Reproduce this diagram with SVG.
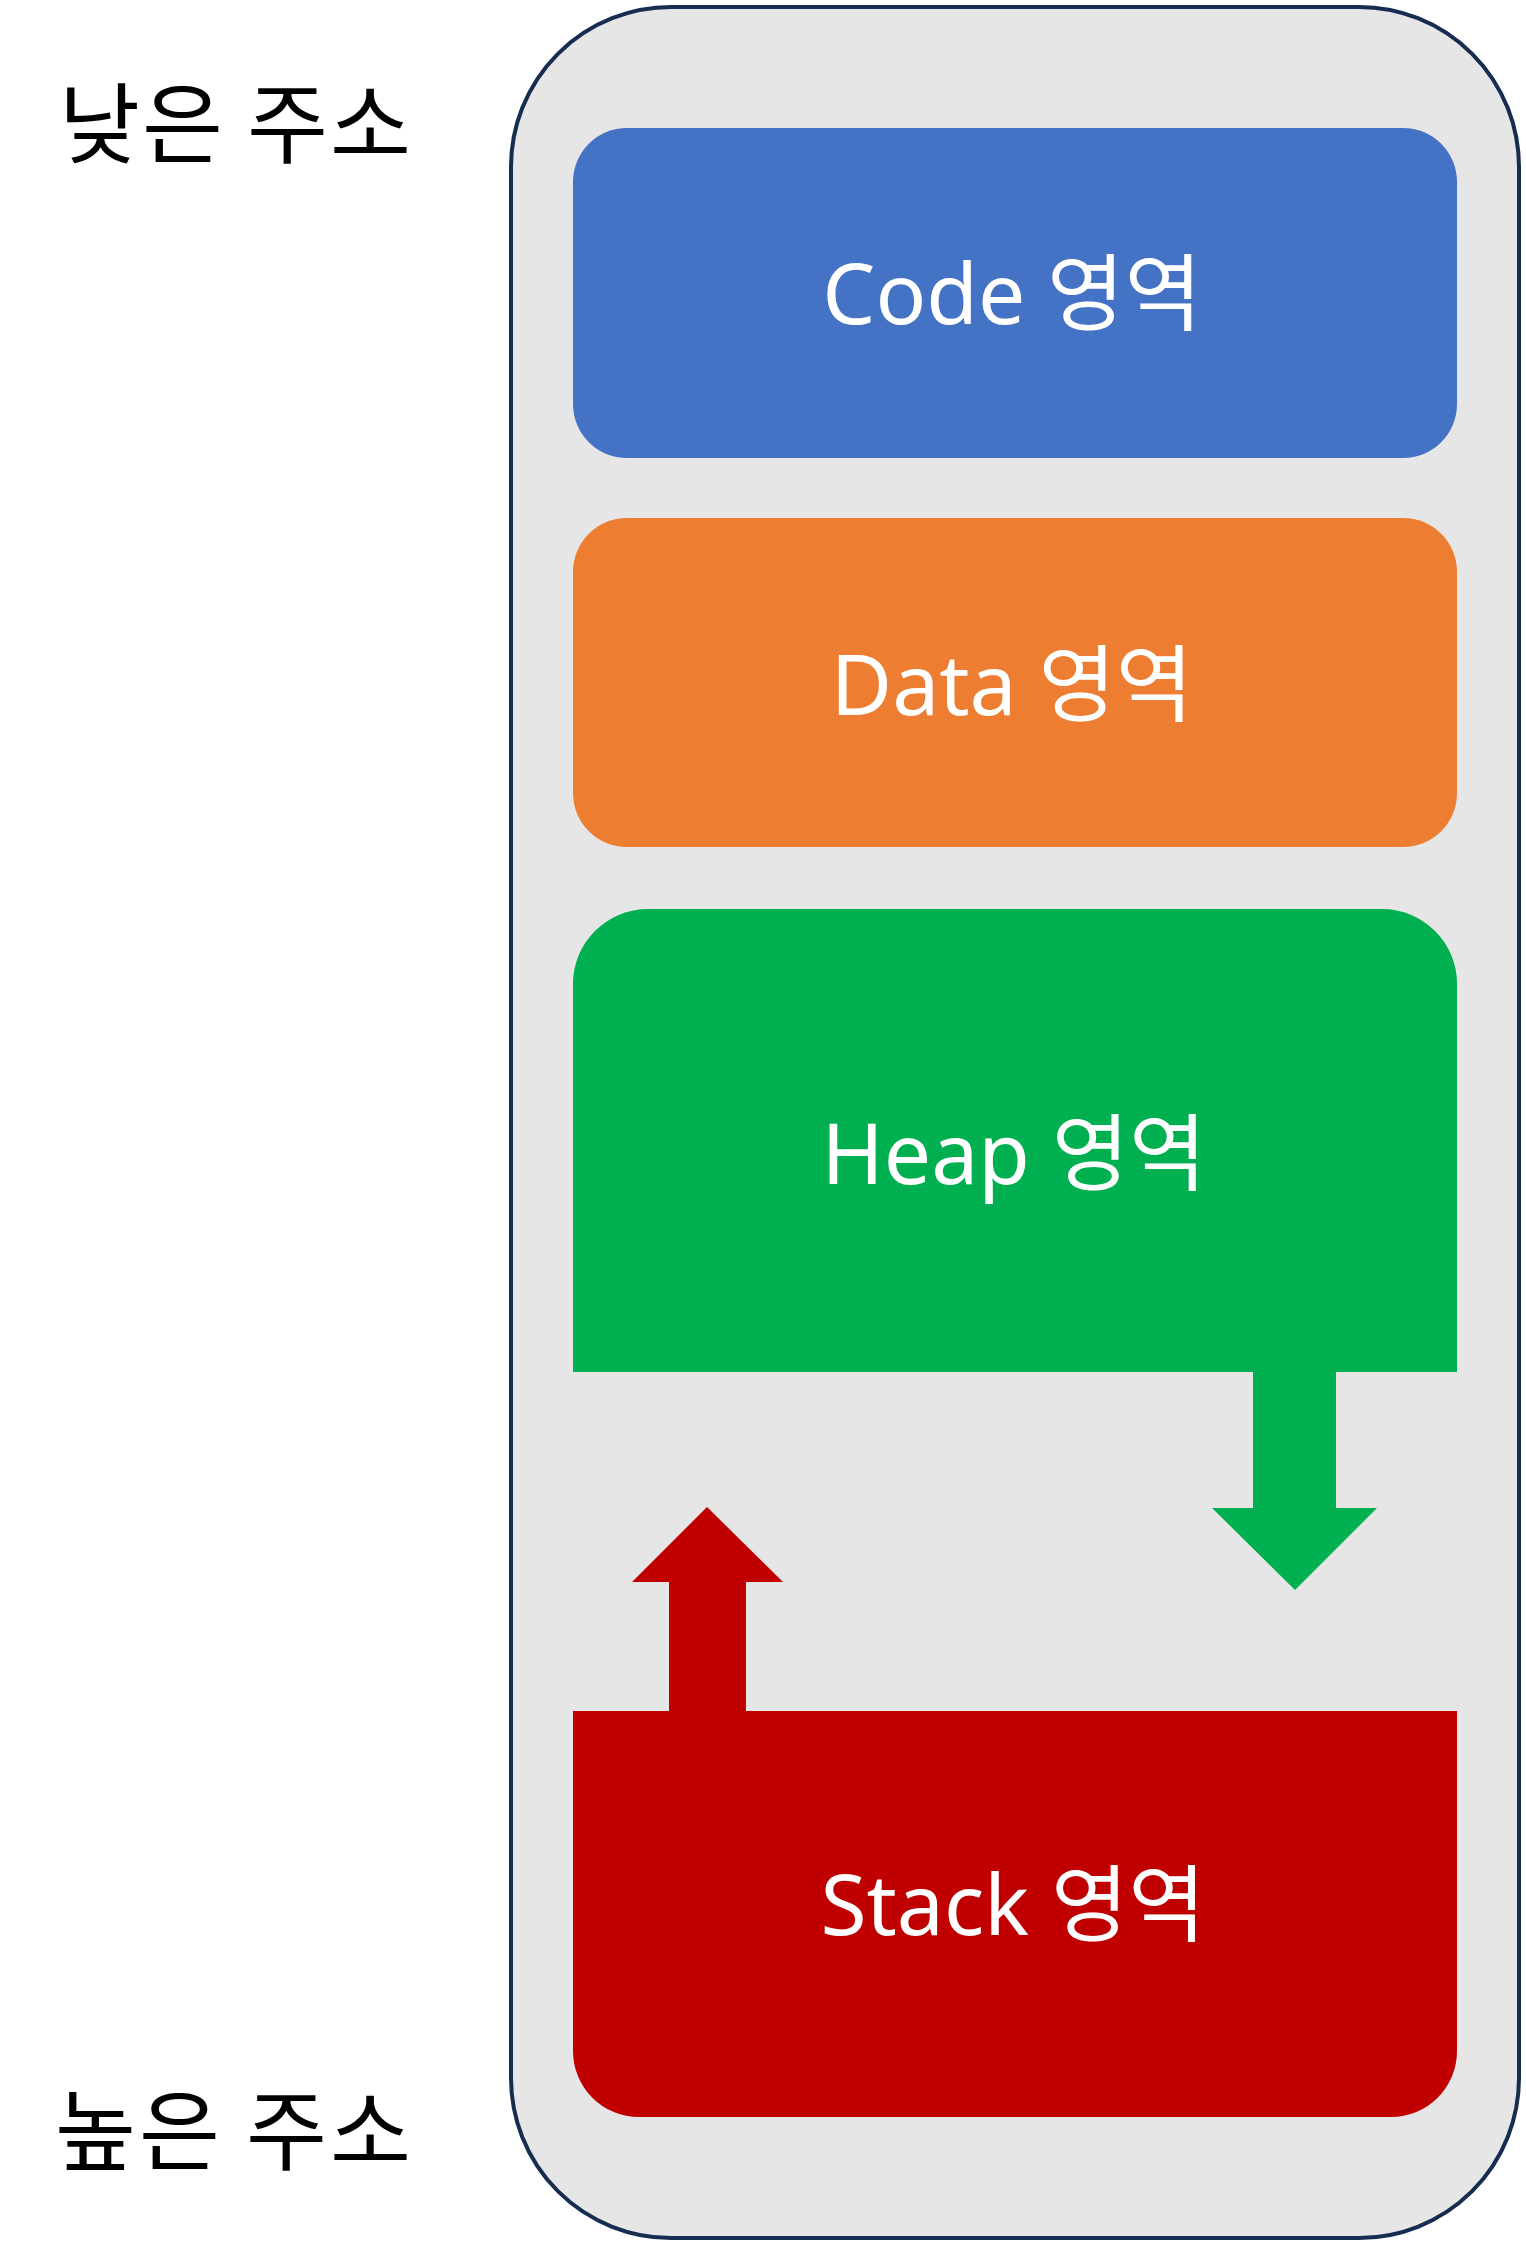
<svg xmlns="http://www.w3.org/2000/svg" width="1526" height="2245" viewBox="0 0 1526 2245">
<style>
.lbl{font-family:"Noto Sans","Noto Sans CJK KR",sans-serif;font-size:84px;fill:#ffffff;text-anchor:middle}
.side{font-family:"Noto Sans CJK KR","Noto Sans",sans-serif;font-size:88px;fill:#000000}
</style>
<rect width="1526" height="2245" fill="#ffffff"/>
<g id="memory">
<rect x="511" y="7" width="1008" height="2231" rx="160" ry="160" fill="#e6e6e6" stroke="#172c51" stroke-width="4"/>
</g>
<g id="code">
<rect x="573" y="128" width="884" height="330" rx="54" ry="54" fill="#4472c4"/>
<text class="lbl" x="1012" y="324">Code 영역</text>
</g>
<g id="data">
<rect x="573" y="518" width="884" height="329" rx="54" ry="54" fill="#ed7d31"/>
<text class="lbl" x="1012" y="715">Data 영역</text>
</g>
<g id="heap">
<path d="M573,1372 V984 A75,75 0 0 1 648,909 H1382 A75,75 0 0 1 1457,984 V1372 Z" fill="#00b050"/>
<text class="lbl" x="1014" y="1184">Heap 영역</text>
</g>
<g id="stack">
<path d="M573,1711 H1457 V2051 A66,66 0 0 1 1391,2117 H639 A66,66 0 0 1 573,2051 Z" fill="#c00000"/>
<text class="lbl" x="1013" y="1935">Stack 영역</text>
</g>
<g id="connectors">
<path d="M1253,1371 V1508 H1212 L1295,1590 L1377,1508 H1336 V1371 Z" fill="#00b050"/>
<path d="M669,1712 V1582 H632 L707,1507 L783,1582 H746 V1712 Z" fill="#c00000"/>
</g>
<g id="low-address">
<text class="side" x="59" y="156" textLength="352" lengthAdjust="spacing">낮은 주소</text>
</g>
<g id="high-address">
<text class="side" x="55" y="2163" textLength="356" lengthAdjust="spacing">높은 주소</text>
</g>
</svg>
